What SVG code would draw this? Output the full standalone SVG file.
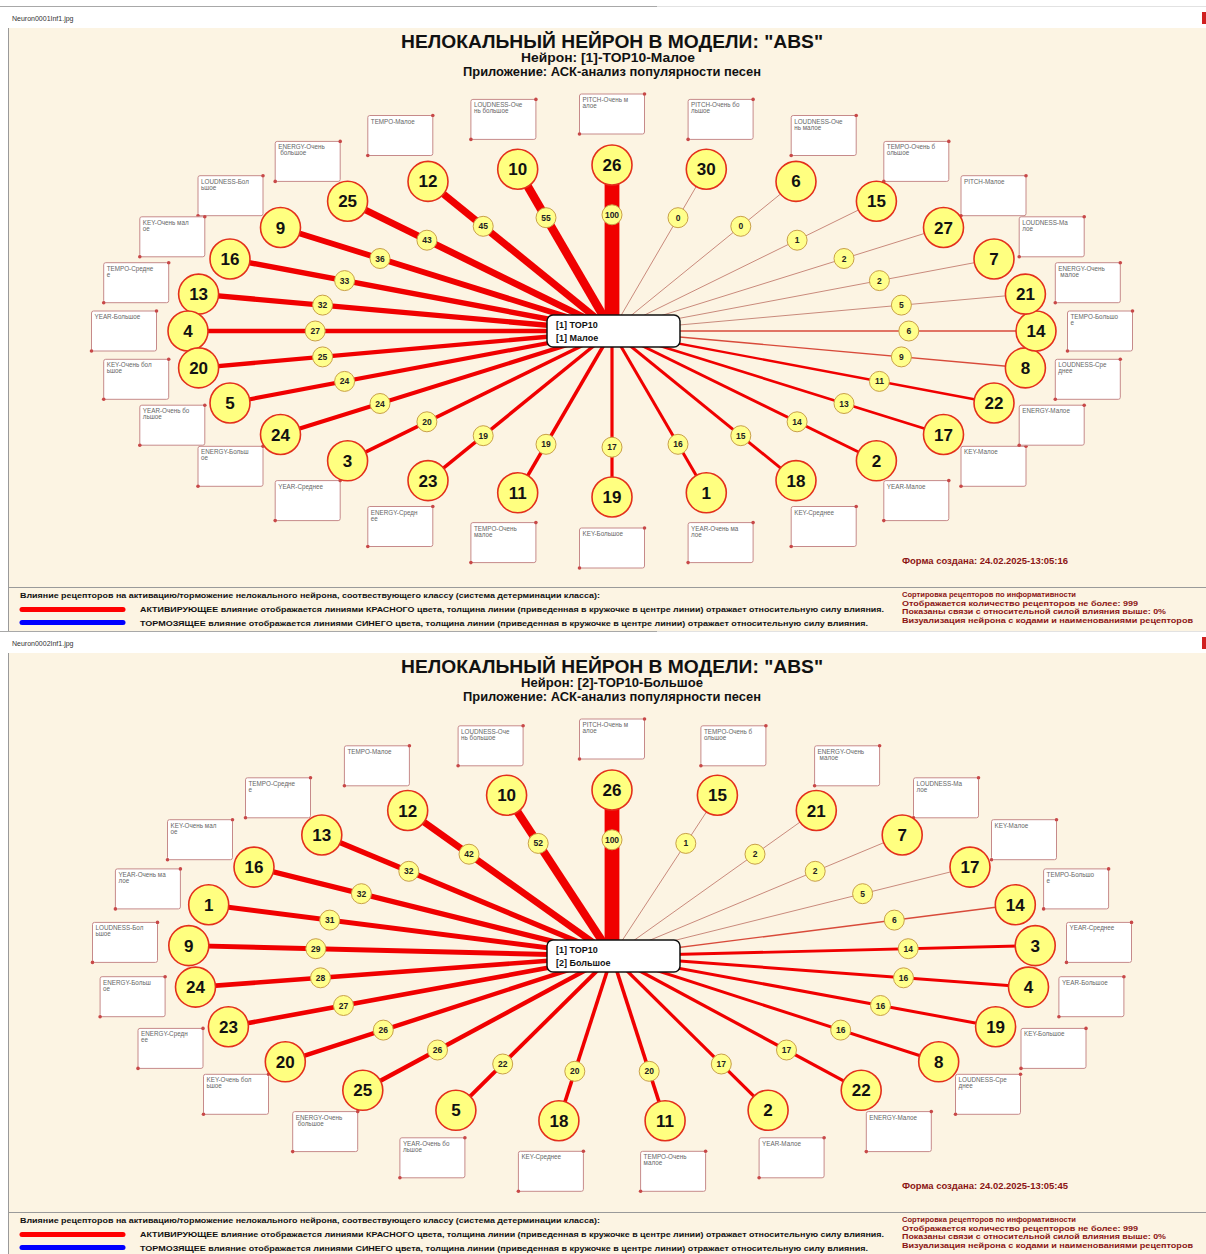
<svg xmlns="http://www.w3.org/2000/svg" width="1206" height="1254" viewBox="0 0 1206 1254">
<style>
text{font-family:"Liberation Sans",Arial,sans-serif}
.bg{fill:#fcf4e3}
.frame{stroke:#9a9a9a;stroke-width:1;fill:none}
.fn{font-size:7px;fill:#333}
.ti{font-size:19px;font-weight:bold;text-anchor:middle;fill:#111}
.st{font-size:12.5px;font-weight:bold;text-anchor:middle;fill:#111}
.ln{stroke:#f00000;fill:none}
.lm{stroke:#d84a3a;stroke-width:1.4;fill:none}
.lt{stroke:#c98a7c;stroke-width:1;fill:none}
.nc{fill:#ffff80;stroke:#e3301c;stroke-width:1.6}
.nt{font-size:17px;font-weight:bold;text-anchor:middle;fill:#111}
.wc{fill:#ffff8c;stroke:#c9a048;stroke-width:1}
.wt{font-size:8.5px;font-weight:bold;text-anchor:middle;fill:#222}
.bt{font-size:6.3px;fill:#666}
.cb{fill:#fff;stroke:#111;stroke-width:1.5}
.ct{font-size:9px;font-weight:bold;fill:#111}
.ft{font-size:7.5px;font-weight:bold;fill:#111}
.fr{font-size:7.5px;font-weight:bold;fill:#8b1414}
.fd{font-size:8.5px;font-weight:bold;fill:#8b1414}
</style>
<defs>
<g id="box"><rect x="0" y="0" width="65" height="40" rx="2" fill="#fff" stroke="#c68a8a" stroke-width="1"/><circle cx="65" cy="0" r="1.8" fill="#c84848"/><circle cx="0" cy="40" r="1.8" fill="#c84848"/></g>
</defs>
<rect x="0" y="0" width="1206" height="1254" fill="#fff"/>

<!-- ================= PANEL 1 ================= -->
<g id="panel1">
<line x1="0" y1="6.5" x2="657" y2="6.5" stroke="#a8a8a8"/>
<line x1="657" y1="6.5" x2="1206" y2="6.5" stroke="#e2e2e2"/>
<text class="fn" x="12" y="21">Neuron0001Inf1.jpg</text>
<rect x="1202" y="12" width="4" height="12" fill="#d02020"/>
<rect class="bg" x="8" y="28" width="1198" height="604"/>
<line class="frame" x1="8.5" y1="28" x2="8.5" y2="632"/>
<line class="frame" x1="8" y1="587.5" x2="1206" y2="587.5"/>
<text class="ti" x="612" y="48" textLength="422" lengthAdjust="spacingAndGlyphs">НЕЛОКАЛЬНЫЙ НЕЙРОН В МОДЕЛИ: "ABS"</text>
<text class="st" x="608" y="62" textLength="174" lengthAdjust="spacingAndGlyphs">Нейрон: [1]-TOP10-Малое</text>
<text class="st" x="612" y="76" textLength="298" lengthAdjust="spacingAndGlyphs">Приложение: АСК-анализ популярности песен</text>

<g id="p1-connectors">
<line class="ln" x1="612" y1="331" x2="612" y2="165" stroke-width="14.8"/>
<line class="ln" x1="612" y1="331" x2="517.7" y2="169.2" stroke-width="8.5"/>
<line class="ln" x1="612" y1="331" x2="428" y2="181.4" stroke-width="7.1"/>
<line class="ln" x1="612" y1="331" x2="347.6" y2="201.2" stroke-width="6.8"/>
<line class="ln" x1="612" y1="331" x2="280.5" y2="227.5" stroke-width="5.8"/>
<line class="ln" x1="612" y1="331" x2="230" y2="259" stroke-width="5.4"/>
<line class="ln" x1="612" y1="331" x2="198.6" y2="294.1" stroke-width="5.3"/>
<line class="ln" x1="612" y1="331" x2="188" y2="331" stroke-width="4.6"/>
<line class="ln" x1="612" y1="331" x2="198.6" y2="367.9" stroke-width="4.3"/>
<line class="ln" x1="612" y1="331" x2="230" y2="403" stroke-width="4.2"/>
<line class="ln" x1="612" y1="331" x2="280.5" y2="434.5" stroke-width="4.2"/>
<line class="ln" x1="612" y1="331" x2="347.6" y2="460.8" stroke-width="3.6"/>
<line class="ln" x1="612" y1="331" x2="428" y2="480.6" stroke-width="3.5"/>
<line class="ln" x1="612" y1="331" x2="517.7" y2="492.8" stroke-width="3.5"/>
<line class="ln" x1="612" y1="331" x2="612" y2="497" stroke-width="3.2"/>
<line class="ln" x1="612" y1="331" x2="706.3" y2="492.8" stroke-width="3"/>
<line class="ln" x1="612" y1="331" x2="796" y2="480.6" stroke-width="2.9"/>
<line class="ln" x1="612" y1="331" x2="876.4" y2="460.8" stroke-width="2.8"/>
<line class="ln" x1="612" y1="331" x2="943.5" y2="434.5" stroke-width="2.6"/>
<line class="ln" x1="612" y1="331" x2="994" y2="403" stroke-width="2.3"/>
<line class="lm" x1="612" y1="331" x2="1025.4" y2="367.9"/>
<line class="lm" x1="612" y1="331" x2="1036" y2="331"/>
<line class="lt" x1="612" y1="331" x2="1025.4" y2="294.1"/>
<line class="lt" x1="612" y1="331" x2="994" y2="259"/>
<line class="lt" x1="612" y1="331" x2="943.5" y2="227.5"/>
<line class="lt" x1="612" y1="331" x2="876.4" y2="201.2"/>
<line class="lt" x1="612" y1="331" x2="796" y2="181.4"/>
<line class="lt" x1="612" y1="331" x2="706.3" y2="169.2"/>
<g id="p1-weights">
<circle class="wc" cx="612" cy="214.8" r="10"/><text class="wt" x="612" y="217.8">100</text>
<circle class="wc" cx="546" cy="217.7" r="10"/><text class="wt" x="546" y="220.7">55</text>
<circle class="wc" cx="483.2" cy="226.3" r="10"/><text class="wt" x="483.2" y="229.3">45</text>
<circle class="wc" cx="426.9" cy="240.2" r="10"/><text class="wt" x="426.9" y="243.2">43</text>
<circle class="wc" cx="380" cy="258.5" r="10"/><text class="wt" x="380" y="261.5">36</text>
<circle class="wc" cx="344.6" cy="280.6" r="10"/><text class="wt" x="344.6" y="283.6">33</text>
<circle class="wc" cx="322.6" cy="305.1" r="10"/><text class="wt" x="322.6" y="308.1">32</text>
<circle class="wc" cx="315.2" cy="331" r="10"/><text class="wt" x="315.2" y="334">27</text>
<circle class="wc" cx="322.6" cy="356.9" r="10"/><text class="wt" x="322.6" y="359.9">25</text>
<circle class="wc" cx="344.6" cy="381.4" r="10"/><text class="wt" x="344.6" y="384.4">24</text>
<circle class="wc" cx="380" cy="403.5" r="10"/><text class="wt" x="380" y="406.5">24</text>
<circle class="wc" cx="426.9" cy="421.8" r="10"/><text class="wt" x="426.9" y="424.8">20</text>
<circle class="wc" cx="483.2" cy="435.7" r="10"/><text class="wt" x="483.2" y="438.7">19</text>
<circle class="wc" cx="546" cy="444.3" r="10"/><text class="wt" x="546" y="447.3">19</text>
<circle class="wc" cx="612" cy="447.2" r="10"/><text class="wt" x="612" y="450.2">17</text>
<circle class="wc" cx="678" cy="444.3" r="10"/><text class="wt" x="678" y="447.3">16</text>
<circle class="wc" cx="740.8" cy="435.7" r="10"/><text class="wt" x="740.8" y="438.7">15</text>
<circle class="wc" cx="797.1" cy="421.8" r="10"/><text class="wt" x="797.1" y="424.8">14</text>
<circle class="wc" cx="844" cy="403.5" r="10"/><text class="wt" x="844" y="406.5">13</text>
<circle class="wc" cx="879.4" cy="381.4" r="10"/><text class="wt" x="879.4" y="384.4">11</text>
<circle class="wc" cx="901.4" cy="356.9" r="10"/><text class="wt" x="901.4" y="359.9">9</text>
<circle class="wc" cx="908.8" cy="331" r="10"/><text class="wt" x="908.8" y="334">6</text>
<circle class="wc" cx="901.4" cy="305.1" r="10"/><text class="wt" x="901.4" y="308.1">5</text>
<circle class="wc" cx="879.4" cy="280.6" r="10"/><text class="wt" x="879.4" y="283.6">2</text>
<circle class="wc" cx="844" cy="258.5" r="10"/><text class="wt" x="844" y="261.5">2</text>
<circle class="wc" cx="797.1" cy="240.2" r="10"/><text class="wt" x="797.1" y="243.2">1</text>
<circle class="wc" cx="740.8" cy="226.3" r="10"/><text class="wt" x="740.8" y="229.3">0</text>
<circle class="wc" cx="678" cy="217.7" r="10"/><text class="wt" x="678" y="220.7">0</text>
</g>
</g>

<g id="p1-nodes">
<g id="p1-n26"><g transform="translate(579.5,94)"><use href="#box"/><text class="bt" x="3" y="8">PITCH-Очень м</text><text class="bt" x="3" y="14">алое</text></g><circle class="nc" cx="612" cy="165" r="20"/><text class="nt" x="612" y="171">26</text></g>
<g id="p1-n10"><g transform="translate(470.9,99.4)"><use href="#box"/><text class="bt" x="3" y="8">LOUDNESS-Оче</text><text class="bt" x="3" y="14">нь большое</text></g><circle class="nc" cx="517.7" cy="169.2" r="20"/><text class="nt" x="517.7" y="175.2">10</text></g>
<g id="p1-n12"><g transform="translate(367.8,115.5)"><use href="#box"/><text class="bt" x="3" y="8">TEMPO-Малое</text></g><circle class="nc" cx="428" cy="181.4" r="20"/><text class="nt" x="428" y="187.4">12</text></g>
<g id="p1-n25"><g transform="translate(275.2,141.4)"><use href="#box"/><text class="bt" x="3" y="8">ENERGY-Очень</text><text class="bt" x="5" y="14">большое</text></g><circle class="nc" cx="347.6" cy="201.2" r="20"/><text class="nt" x="347.6" y="207.2">25</text></g>
<g id="p1-n9"><g transform="translate(198,175.7)"><use href="#box"/><text class="bt" x="3" y="8">LOUDNESS-Бол</text><text class="bt" x="3" y="14">ьшое</text></g><circle class="nc" cx="280.5" cy="227.5" r="20"/><text class="nt" x="280.5" y="233.5">9</text></g>
<g id="p1-n16"><g transform="translate(139.8,216.8)"><use href="#box"/><text class="bt" x="3" y="8">KEY-Очень мал</text><text class="bt" x="3" y="14">ое</text></g><circle class="nc" cx="230" cy="259" r="20"/><text class="nt" x="230" y="265">16</text></g>
<g id="p1-n13"><g transform="translate(103.7,262.7)"><use href="#box"/><text class="bt" x="3" y="8">TEMPO-Средне</text><text class="bt" x="3" y="14">е</text></g><circle class="nc" cx="198.6" cy="294.1" r="20"/><text class="nt" x="198.6" y="300.1">13</text></g>
<g id="p1-n4"><g transform="translate(91.5,311)"><use href="#box"/><text class="bt" x="3" y="8">YEAR-Большое</text></g><circle class="nc" cx="188" cy="331" r="20"/><text class="nt" x="188" y="337">4</text></g>
<g id="p1-n20"><g transform="translate(103.7,359.3)"><use href="#box"/><text class="bt" x="3" y="8">KEY-Очень бол</text><text class="bt" x="3" y="14">ьшое</text></g><circle class="nc" cx="198.6" cy="367.9" r="20"/><text class="nt" x="198.6" y="373.9">20</text></g>
<g id="p1-n5"><g transform="translate(139.8,405.2)"><use href="#box"/><text class="bt" x="3" y="8">YEAR-Очень бо</text><text class="bt" x="3" y="14">льшое</text></g><circle class="nc" cx="230" cy="403" r="20"/><text class="nt" x="230" y="409">5</text></g>
<g id="p1-n24"><g transform="translate(198,446.3)"><use href="#box"/><text class="bt" x="3" y="8">ENERGY-Больш</text><text class="bt" x="3" y="14">ое</text></g><circle class="nc" cx="280.5" cy="434.5" r="20"/><text class="nt" x="280.5" y="440.5">24</text></g>
<g id="p1-n3"><g transform="translate(275.2,480.6)"><use href="#box"/><text class="bt" x="3" y="8">YEAR-Среднее</text></g><circle class="nc" cx="347.6" cy="460.8" r="20"/><text class="nt" x="347.6" y="466.8">3</text></g>
<g id="p1-n23"><g transform="translate(367.8,506.5)"><use href="#box"/><text class="bt" x="3" y="8">ENERGY-Средн</text><text class="bt" x="3" y="14">ее</text></g><circle class="nc" cx="428" cy="480.6" r="20"/><text class="nt" x="428" y="486.6">23</text></g>
<g id="p1-n11"><g transform="translate(470.9,522.6)"><use href="#box"/><text class="bt" x="3" y="8">TEMPO-Очень</text><text class="bt" x="3" y="14">малое</text></g><circle class="nc" cx="517.7" cy="492.8" r="20"/><text class="nt" x="517.7" y="498.8">11</text></g>
<g id="p1-n19"><g transform="translate(579.5,528)"><use href="#box"/><text class="bt" x="3" y="8">KEY-Большое</text></g><circle class="nc" cx="612" cy="497" r="20"/><text class="nt" x="612" y="503">19</text></g>
<g id="p1-n1"><g transform="translate(688.1,522.6)"><use href="#box"/><text class="bt" x="3" y="8">YEAR-Очень ма</text><text class="bt" x="3" y="14">лое</text></g><circle class="nc" cx="706.3" cy="492.8" r="20"/><text class="nt" x="706.3" y="498.8">1</text></g>
<g id="p1-n18"><g transform="translate(791.2,506.5)"><use href="#box"/><text class="bt" x="3" y="8">KEY-Среднее</text></g><circle class="nc" cx="796" cy="480.6" r="20"/><text class="nt" x="796" y="486.6">18</text></g>
<g id="p1-n2"><g transform="translate(883.8,480.6)"><use href="#box"/><text class="bt" x="3" y="8">YEAR-Малое</text></g><circle class="nc" cx="876.4" cy="460.8" r="20"/><text class="nt" x="876.4" y="466.8">2</text></g>
<g id="p1-n17"><g transform="translate(961,446.3)"><use href="#box"/><text class="bt" x="3" y="8">KEY-Малое</text></g><circle class="nc" cx="943.5" cy="434.5" r="20"/><text class="nt" x="943.5" y="440.5">17</text></g>
<g id="p1-n22"><g transform="translate(1019.2,405.2)"><use href="#box"/><text class="bt" x="3" y="8">ENERGY-Малое</text></g><circle class="nc" cx="994" cy="403" r="20"/><text class="nt" x="994" y="409">22</text></g>
<g id="p1-n8"><g transform="translate(1055.3,359.3)"><use href="#box"/><text class="bt" x="3" y="8">LOUDNESS-Сре</text><text class="bt" x="3" y="14">днее</text></g><circle class="nc" cx="1025.4" cy="367.9" r="20"/><text class="nt" x="1025.4" y="373.9">8</text></g>
<g id="p1-n14"><g transform="translate(1067.5,311)"><use href="#box"/><text class="bt" x="3" y="8">TEMPO-Большо</text><text class="bt" x="3" y="14">е</text></g><circle class="nc" cx="1036" cy="331" r="20"/><text class="nt" x="1036" y="337">14</text></g>
<g id="p1-n21"><g transform="translate(1055.3,262.7)"><use href="#box"/><text class="bt" x="3" y="8">ENERGY-Очень</text><text class="bt" x="5" y="14">малое</text></g><circle class="nc" cx="1025.4" cy="294.1" r="20"/><text class="nt" x="1025.4" y="300.1">21</text></g>
<g id="p1-n7"><g transform="translate(1019.2,216.8)"><use href="#box"/><text class="bt" x="3" y="8">LOUDNESS-Ма</text><text class="bt" x="3" y="14">лое</text></g><circle class="nc" cx="994" cy="259" r="20"/><text class="nt" x="994" y="265">7</text></g>
<g id="p1-n27"><g transform="translate(961,175.7)"><use href="#box"/><text class="bt" x="3" y="8">PITCH-Малое</text></g><circle class="nc" cx="943.5" cy="227.5" r="20"/><text class="nt" x="943.5" y="233.5">27</text></g>
<g id="p1-n15"><g transform="translate(883.8,141.4)"><use href="#box"/><text class="bt" x="3" y="8">TEMPO-Очень б</text><text class="bt" x="3" y="14">ольшое</text></g><circle class="nc" cx="876.4" cy="201.2" r="20"/><text class="nt" x="876.4" y="207.2">15</text></g>
<g id="p1-n6"><g transform="translate(791.2,115.5)"><use href="#box"/><text class="bt" x="3" y="8">LOUDNESS-Оче</text><text class="bt" x="3" y="14">нь малое</text></g><circle class="nc" cx="796" cy="181.4" r="20"/><text class="nt" x="796" y="187.4">6</text></g>
<g id="p1-n30"><g transform="translate(688.1,99.4)"><use href="#box"/><text class="bt" x="3" y="8">PITCH-Очень бо</text><text class="bt" x="3" y="14">льшое</text></g><circle class="nc" cx="706.3" cy="169.2" r="20"/><text class="nt" x="706.3" y="175.2">30</text></g>
</g>
<g id="p1-center"><rect class="cb" x="547" y="315" width="133" height="32" rx="6"/><text class="ct" x="556" y="328">[1] TOP10</text><text class="ct" x="556" y="341">[1] Малое</text></g>

<text class="fd" x="902" y="564" textLength="166" lengthAdjust="spacingAndGlyphs">Форма создана: 24.02.2025-13:05:16</text>
<g id="p1-footer">
<text class="ft" x="20" y="598" textLength="580" lengthAdjust="spacingAndGlyphs">Влияние рецепторов на активацию/торможение нелокального нейрона, соотвествующего классу (система детерминации класса):</text>
<line x1="22" y1="609.5" x2="123" y2="609.5" stroke="#ff0000" stroke-width="5" stroke-linecap="round"/>
<text class="ft" x="140" y="612" textLength="744" lengthAdjust="spacingAndGlyphs">АКТИВИРУЮЩЕЕ влияние отображается линиями КРАСНОГО цвета, толщина линии (приведенная в кружочке в центре линии) отражает относительную силу влияния.</text>
<line x1="22" y1="622.5" x2="123" y2="622.5" stroke="#0000ff" stroke-width="5" stroke-linecap="round"/>
<text class="ft" x="140" y="626" textLength="728" lengthAdjust="spacingAndGlyphs">ТОРМОЗЯЩЕЕ влияние отображается линиями СИНЕГО цвета, толщина линии (приведенная в кружочке в центре линии) отражает относительную силу влияния.</text>
<text class="fr" x="902" y="597" textLength="174" lengthAdjust="spacingAndGlyphs">Сортировка рецепторов по информативности</text>
<text class="fr" x="902" y="605.5" textLength="236" lengthAdjust="spacingAndGlyphs">Отображается количество рецепторов не более: 999</text>
<text class="fr" x="902" y="614" textLength="264" lengthAdjust="spacingAndGlyphs">Показаны связи с относительной силой влияния выше: 0%</text>
<text class="fr" x="902" y="623" textLength="291" lengthAdjust="spacingAndGlyphs">Визуализация нейрона с кодами и наименованиями рецепторов</text>
</g>
</g>

<!-- ================= PANEL 2 ================= -->
<g id="panel2" transform="translate(0,625)">
<rect x="0" y="7" width="1206" height="622" fill="#fff"/>
<line x1="0" y1="6.5" x2="657" y2="6.5" stroke="#a8a8a8"/>
<line x1="657" y1="6.5" x2="1206" y2="6.5" stroke="#e2e2e2"/>
<text class="fn" x="12" y="21">Neuron0002Inf1.jpg</text>
<rect x="1202" y="12" width="4" height="12" fill="#d02020"/>
<rect class="bg" x="8" y="28" width="1198" height="604"/>
<line class="frame" x1="8.5" y1="28" x2="8.5" y2="632"/>
<line class="frame" x1="8" y1="587.5" x2="1206" y2="587.5"/>
<text class="ti" x="612" y="48" textLength="422" lengthAdjust="spacingAndGlyphs">НЕЛОКАЛЬНЫЙ НЕЙРОН В МОДЕЛИ: "ABS"</text>
<text class="st" x="612" y="62" textLength="182" lengthAdjust="spacingAndGlyphs">Нейрон: [2]-TOP10-Большое</text>
<text class="st" x="612" y="76" textLength="298" lengthAdjust="spacingAndGlyphs">Приложение: АСК-анализ популярности песен</text>

<g id="p2-connectors">
<line class="ln" x1="612" y1="331" x2="612" y2="165" stroke-width="14.8"/>
<line class="ln" x1="612" y1="331" x2="506.6" y2="170.2" stroke-width="8.1"/>
<line class="ln" x1="612" y1="331" x2="407.7" y2="185.5" stroke-width="6.7"/>
<line class="ln" x1="612" y1="331" x2="321.8" y2="210" stroke-width="5.3"/>
<line class="ln" x1="612" y1="331" x2="254" y2="242.1" stroke-width="5.3"/>
<line class="ln" x1="612" y1="331" x2="208.7" y2="279.7" stroke-width="5.1"/>
<line class="ln" x1="612" y1="331" x2="188.8" y2="320.6" stroke-width="4.9"/>
<line class="ln" x1="612" y1="331" x2="195.5" y2="362.1" stroke-width="4.7"/>
<line class="ln" x1="612" y1="331" x2="228.4" y2="401.7" stroke-width="4.6"/>
<line class="ln" x1="612" y1="331" x2="285.3" y2="436.8" stroke-width="4.4"/>
<line class="ln" x1="612" y1="331" x2="362.8" y2="465.3" stroke-width="4.4"/>
<line class="ln" x1="612" y1="331" x2="455.9" y2="485.3" stroke-width="3.9"/>
<line class="ln" x1="612" y1="331" x2="558.9" y2="495.7" stroke-width="3.6"/>
<line class="ln" x1="612" y1="331" x2="665.1" y2="495.7" stroke-width="3.6"/>
<line class="ln" x1="612" y1="331" x2="768.1" y2="485.3" stroke-width="3.2"/>
<line class="ln" x1="612" y1="331" x2="861.2" y2="465.3" stroke-width="3.2"/>
<line class="ln" x1="612" y1="331" x2="938.7" y2="436.8" stroke-width="3"/>
<line class="ln" x1="612" y1="331" x2="995.6" y2="401.7" stroke-width="3"/>
<line class="ln" x1="612" y1="331" x2="1028.5" y2="362.1" stroke-width="3"/>
<line class="ln" x1="612" y1="331" x2="1035.2" y2="320.6" stroke-width="2.8"/>
<line class="lm" x1="612" y1="331" x2="1015.3" y2="279.7"/>
<line class="lt" x1="612" y1="331" x2="970" y2="242.1"/>
<line class="lt" x1="612" y1="331" x2="902.2" y2="210"/>
<line class="lt" x1="612" y1="331" x2="816.3" y2="185.5"/>
<line class="lt" x1="612" y1="331" x2="717.4" y2="170.2"/>
<g id="p2-weights">
<circle class="wc" cx="612" cy="214.8" r="10"/><text class="wt" x="612" y="217.8">100</text>
<circle class="wc" cx="538.2" cy="218.4" r="10"/><text class="wt" x="538.2" y="221.4">52</text>
<circle class="wc" cx="469" cy="229.2" r="10"/><text class="wt" x="469" y="232.2">42</text>
<circle class="wc" cx="408.8" cy="246.3" r="10"/><text class="wt" x="408.8" y="249.3">32</text>
<circle class="wc" cx="361.4" cy="268.7" r="10"/><text class="wt" x="361.4" y="271.7">32</text>
<circle class="wc" cx="329.7" cy="295.1" r="10"/><text class="wt" x="329.7" y="298.1">31</text>
<circle class="wc" cx="315.8" cy="323.7" r="10"/><text class="wt" x="315.8" y="326.7">29</text>
<circle class="wc" cx="320.5" cy="352.8" r="10"/><text class="wt" x="320.5" y="355.8">28</text>
<circle class="wc" cx="343.5" cy="380.5" r="10"/><text class="wt" x="343.5" y="383.5">27</text>
<circle class="wc" cx="383.3" cy="405.1" r="10"/><text class="wt" x="383.3" y="408.1">26</text>
<circle class="wc" cx="437.5" cy="425" r="10"/><text class="wt" x="437.5" y="428">26</text>
<circle class="wc" cx="502.7" cy="439" r="10"/><text class="wt" x="502.7" y="442">22</text>
<circle class="wc" cx="574.8" cy="446.3" r="10"/><text class="wt" x="574.8" y="449.3">20</text>
<circle class="wc" cx="649.2" cy="446.3" r="10"/><text class="wt" x="649.2" y="449.3">20</text>
<circle class="wc" cx="721.3" cy="439" r="10"/><text class="wt" x="721.3" y="442">17</text>
<circle class="wc" cx="786.5" cy="425" r="10"/><text class="wt" x="786.5" y="428">17</text>
<circle class="wc" cx="840.7" cy="405.1" r="10"/><text class="wt" x="840.7" y="408.1">16</text>
<circle class="wc" cx="880.5" cy="380.5" r="10"/><text class="wt" x="880.5" y="383.5">16</text>
<circle class="wc" cx="903.5" cy="352.8" r="10"/><text class="wt" x="903.5" y="355.8">16</text>
<circle class="wc" cx="908.2" cy="323.7" r="10"/><text class="wt" x="908.2" y="326.7">14</text>
<circle class="wc" cx="894.3" cy="295.1" r="10"/><text class="wt" x="894.3" y="298.1">6</text>
<circle class="wc" cx="862.6" cy="268.7" r="10"/><text class="wt" x="862.6" y="271.7">5</text>
<circle class="wc" cx="815.2" cy="246.3" r="10"/><text class="wt" x="815.2" y="249.3">2</text>
<circle class="wc" cx="755" cy="229.2" r="10"/><text class="wt" x="755" y="232.2">2</text>
<circle class="wc" cx="685.8" cy="218.4" r="10"/><text class="wt" x="685.8" y="221.4">1</text>
</g>
</g>

<g id="p2-nodes">
<g id="p2-n26"><g transform="translate(579.5,94)"><use href="#box"/><text class="bt" x="3" y="8">PITCH-Очень м</text><text class="bt" x="3" y="14">алое</text></g><circle class="nc" cx="612" cy="165" r="20"/><text class="nt" x="612" y="171">26</text></g>
<g id="p2-n10"><g transform="translate(458.1,100.8)"><use href="#box"/><text class="bt" x="3" y="8">LOUDNESS-Оче</text><text class="bt" x="3" y="14">нь большое</text></g><circle class="nc" cx="506.6" cy="170.2" r="20"/><text class="nt" x="506.6" y="176.2">10</text></g>
<g id="p2-n12"><g transform="translate(344.4,120.8)"><use href="#box"/><text class="bt" x="3" y="8">TEMPO-Малое</text></g><circle class="nc" cx="407.7" cy="185.5" r="20"/><text class="nt" x="407.7" y="191.5">12</text></g>
<g id="p2-n13"><g transform="translate(245.5,152.8)"><use href="#box"/><text class="bt" x="3" y="8">TEMPO-Средне</text><text class="bt" x="3" y="14">е</text></g><circle class="nc" cx="321.8" cy="210" r="20"/><text class="nt" x="321.8" y="216">13</text></g>
<g id="p2-n16"><g transform="translate(167.5,194.7)"><use href="#box"/><text class="bt" x="3" y="8">KEY-Очень мал</text><text class="bt" x="3" y="14">ое</text></g><circle class="nc" cx="254" cy="242.1" r="20"/><text class="nt" x="254" y="248.1">16</text></g>
<g id="p2-n1"><g transform="translate(115.4,243.9)"><use href="#box"/><text class="bt" x="3" y="8">YEAR-Очень ма</text><text class="bt" x="3" y="14">лое</text></g><circle class="nc" cx="208.7" cy="279.7" r="20"/><text class="nt" x="208.7" y="285.7">1</text></g>
<g id="p2-n9"><g transform="translate(92.5,297.4)"><use href="#box"/><text class="bt" x="3" y="8">LOUDNESS-Бол</text><text class="bt" x="3" y="14">ьшое</text></g><circle class="nc" cx="188.8" cy="320.6" r="20"/><text class="nt" x="188.8" y="326.6">9</text></g>
<g id="p2-n24"><g transform="translate(100.1,351.7)"><use href="#box"/><text class="bt" x="3" y="8">ENERGY-Больш</text><text class="bt" x="3" y="14">ое</text></g><circle class="nc" cx="195.5" cy="362.1" r="20"/><text class="nt" x="195.5" y="368.1">24</text></g>
<g id="p2-n23"><g transform="translate(138,403.4)"><use href="#box"/><text class="bt" x="3" y="8">ENERGY-Средн</text><text class="bt" x="3" y="14">ее</text></g><circle class="nc" cx="228.4" cy="401.7" r="20"/><text class="nt" x="228.4" y="407.7">23</text></g>
<g id="p2-n20"><g transform="translate(203.5,449.3)"><use href="#box"/><text class="bt" x="3" y="8">KEY-Очень бол</text><text class="bt" x="3" y="14">ьшое</text></g><circle class="nc" cx="285.3" cy="436.8" r="20"/><text class="nt" x="285.3" y="442.8">20</text></g>
<g id="p2-n25"><g transform="translate(292.7,486.6)"><use href="#box"/><text class="bt" x="3" y="8">ENERGY-Очень</text><text class="bt" x="5" y="14">большое</text></g><circle class="nc" cx="362.8" cy="465.3" r="20"/><text class="nt" x="362.8" y="471.3">25</text></g>
<g id="p2-n5"><g transform="translate(399.9,512.8)"><use href="#box"/><text class="bt" x="3" y="8">YEAR-Очень бо</text><text class="bt" x="3" y="14">льшое</text></g><circle class="nc" cx="455.9" cy="485.3" r="20"/><text class="nt" x="455.9" y="491.3">5</text></g>
<g id="p2-n18"><g transform="translate(518.4,526.3)"><use href="#box"/><text class="bt" x="3" y="8">KEY-Среднее</text></g><circle class="nc" cx="558.9" cy="495.7" r="20"/><text class="nt" x="558.9" y="501.7">18</text></g>
<g id="p2-n11"><g transform="translate(640.6,526.3)"><use href="#box"/><text class="bt" x="3" y="8">TEMPO-Очень</text><text class="bt" x="3" y="14">малое</text></g><circle class="nc" cx="665.1" cy="495.7" r="20"/><text class="nt" x="665.1" y="501.7">11</text></g>
<g id="p2-n2"><g transform="translate(759.1,512.8)"><use href="#box"/><text class="bt" x="3" y="8">YEAR-Малое</text></g><circle class="nc" cx="768.1" cy="485.3" r="20"/><text class="nt" x="768.1" y="491.3">2</text></g>
<g id="p2-n22"><g transform="translate(866.3,486.6)"><use href="#box"/><text class="bt" x="3" y="8">ENERGY-Малое</text></g><circle class="nc" cx="861.2" cy="465.3" r="20"/><text class="nt" x="861.2" y="471.3">22</text></g>
<g id="p2-n8"><g transform="translate(955.5,449.3)"><use href="#box"/><text class="bt" x="3" y="8">LOUDNESS-Сре</text><text class="bt" x="3" y="14">днее</text></g><circle class="nc" cx="938.7" cy="436.8" r="20"/><text class="nt" x="938.7" y="442.8">8</text></g>
<g id="p2-n19"><g transform="translate(1021,403.4)"><use href="#box"/><text class="bt" x="3" y="8">KEY-Большое</text></g><circle class="nc" cx="995.6" cy="401.7" r="20"/><text class="nt" x="995.6" y="407.7">19</text></g>
<g id="p2-n4"><g transform="translate(1058.9,351.7)"><use href="#box"/><text class="bt" x="3" y="8">YEAR-Большое</text></g><circle class="nc" cx="1028.5" cy="362.1" r="20"/><text class="nt" x="1028.5" y="368.1">4</text></g>
<g id="p2-n3"><g transform="translate(1066.5,297.4)"><use href="#box"/><text class="bt" x="3" y="8">YEAR-Среднее</text></g><circle class="nc" cx="1035.2" cy="320.6" r="20"/><text class="nt" x="1035.2" y="326.6">3</text></g>
<g id="p2-n14"><g transform="translate(1043.6,243.9)"><use href="#box"/><text class="bt" x="3" y="8">TEMPO-Большо</text><text class="bt" x="3" y="14">е</text></g><circle class="nc" cx="1015.3" cy="279.7" r="20"/><text class="nt" x="1015.3" y="285.7">14</text></g>
<g id="p2-n17"><g transform="translate(991.5,194.7)"><use href="#box"/><text class="bt" x="3" y="8">KEY-Малое</text></g><circle class="nc" cx="970" cy="242.1" r="20"/><text class="nt" x="970" y="248.1">17</text></g>
<g id="p2-n7"><g transform="translate(913.5,152.8)"><use href="#box"/><text class="bt" x="3" y="8">LOUDNESS-Ма</text><text class="bt" x="3" y="14">лое</text></g><circle class="nc" cx="902.2" cy="210" r="20"/><text class="nt" x="902.2" y="216">7</text></g>
<g id="p2-n21"><g transform="translate(814.6,120.8)"><use href="#box"/><text class="bt" x="3" y="8">ENERGY-Очень</text><text class="bt" x="5" y="14">малое</text></g><circle class="nc" cx="816.3" cy="185.5" r="20"/><text class="nt" x="816.3" y="191.5">21</text></g>
<g id="p2-n15"><g transform="translate(700.9,100.8)"><use href="#box"/><text class="bt" x="3" y="8">TEMPO-Очень б</text><text class="bt" x="3" y="14">ольшое</text></g><circle class="nc" cx="717.4" cy="170.2" r="20"/><text class="nt" x="717.4" y="176.2">15</text></g>
</g>
<g id="p2-center"><rect class="cb" x="547" y="315" width="133" height="32" rx="6"/><text class="ct" x="556" y="328">[1] TOP10</text><text class="ct" x="556" y="341">[2] Большое</text></g>

<text class="fd" x="902" y="564" textLength="166" lengthAdjust="spacingAndGlyphs">Форма создана: 24.02.2025-13:05:45</text>
<g id="p2-footer">
<text class="ft" x="20" y="598" textLength="580" lengthAdjust="spacingAndGlyphs">Влияние рецепторов на активацию/торможение нелокального нейрона, соотвествующего классу (система детерминации класса):</text>
<line x1="22" y1="609.5" x2="123" y2="609.5" stroke="#ff0000" stroke-width="5" stroke-linecap="round"/>
<text class="ft" x="140" y="612" textLength="744" lengthAdjust="spacingAndGlyphs">АКТИВИРУЮЩЕЕ влияние отображается линиями КРАСНОГО цвета, толщина линии (приведенная в кружочке в центре линии) отражает относительную силу влияния.</text>
<line x1="22" y1="622.5" x2="123" y2="622.5" stroke="#0000ff" stroke-width="5" stroke-linecap="round"/>
<text class="ft" x="140" y="626" textLength="728" lengthAdjust="spacingAndGlyphs">ТОРМОЗЯЩЕЕ влияние отображается линиями СИНЕГО цвета, толщина линии (приведенная в кружочке в центре линии) отражает относительную силу влияния.</text>
<text class="fr" x="902" y="597" textLength="174" lengthAdjust="spacingAndGlyphs">Сортировка рецепторов по информативности</text>
<text class="fr" x="902" y="605.5" textLength="236" lengthAdjust="spacingAndGlyphs">Отображается количество рецепторов не более: 999</text>
<text class="fr" x="902" y="614" textLength="264" lengthAdjust="spacingAndGlyphs">Показаны связи с относительной силой влияния выше: 0%</text>
<text class="fr" x="902" y="623" textLength="291" lengthAdjust="spacingAndGlyphs">Визуализация нейрона с кодами и наименованиями рецепторов</text>
</g>
</g>
</svg>
